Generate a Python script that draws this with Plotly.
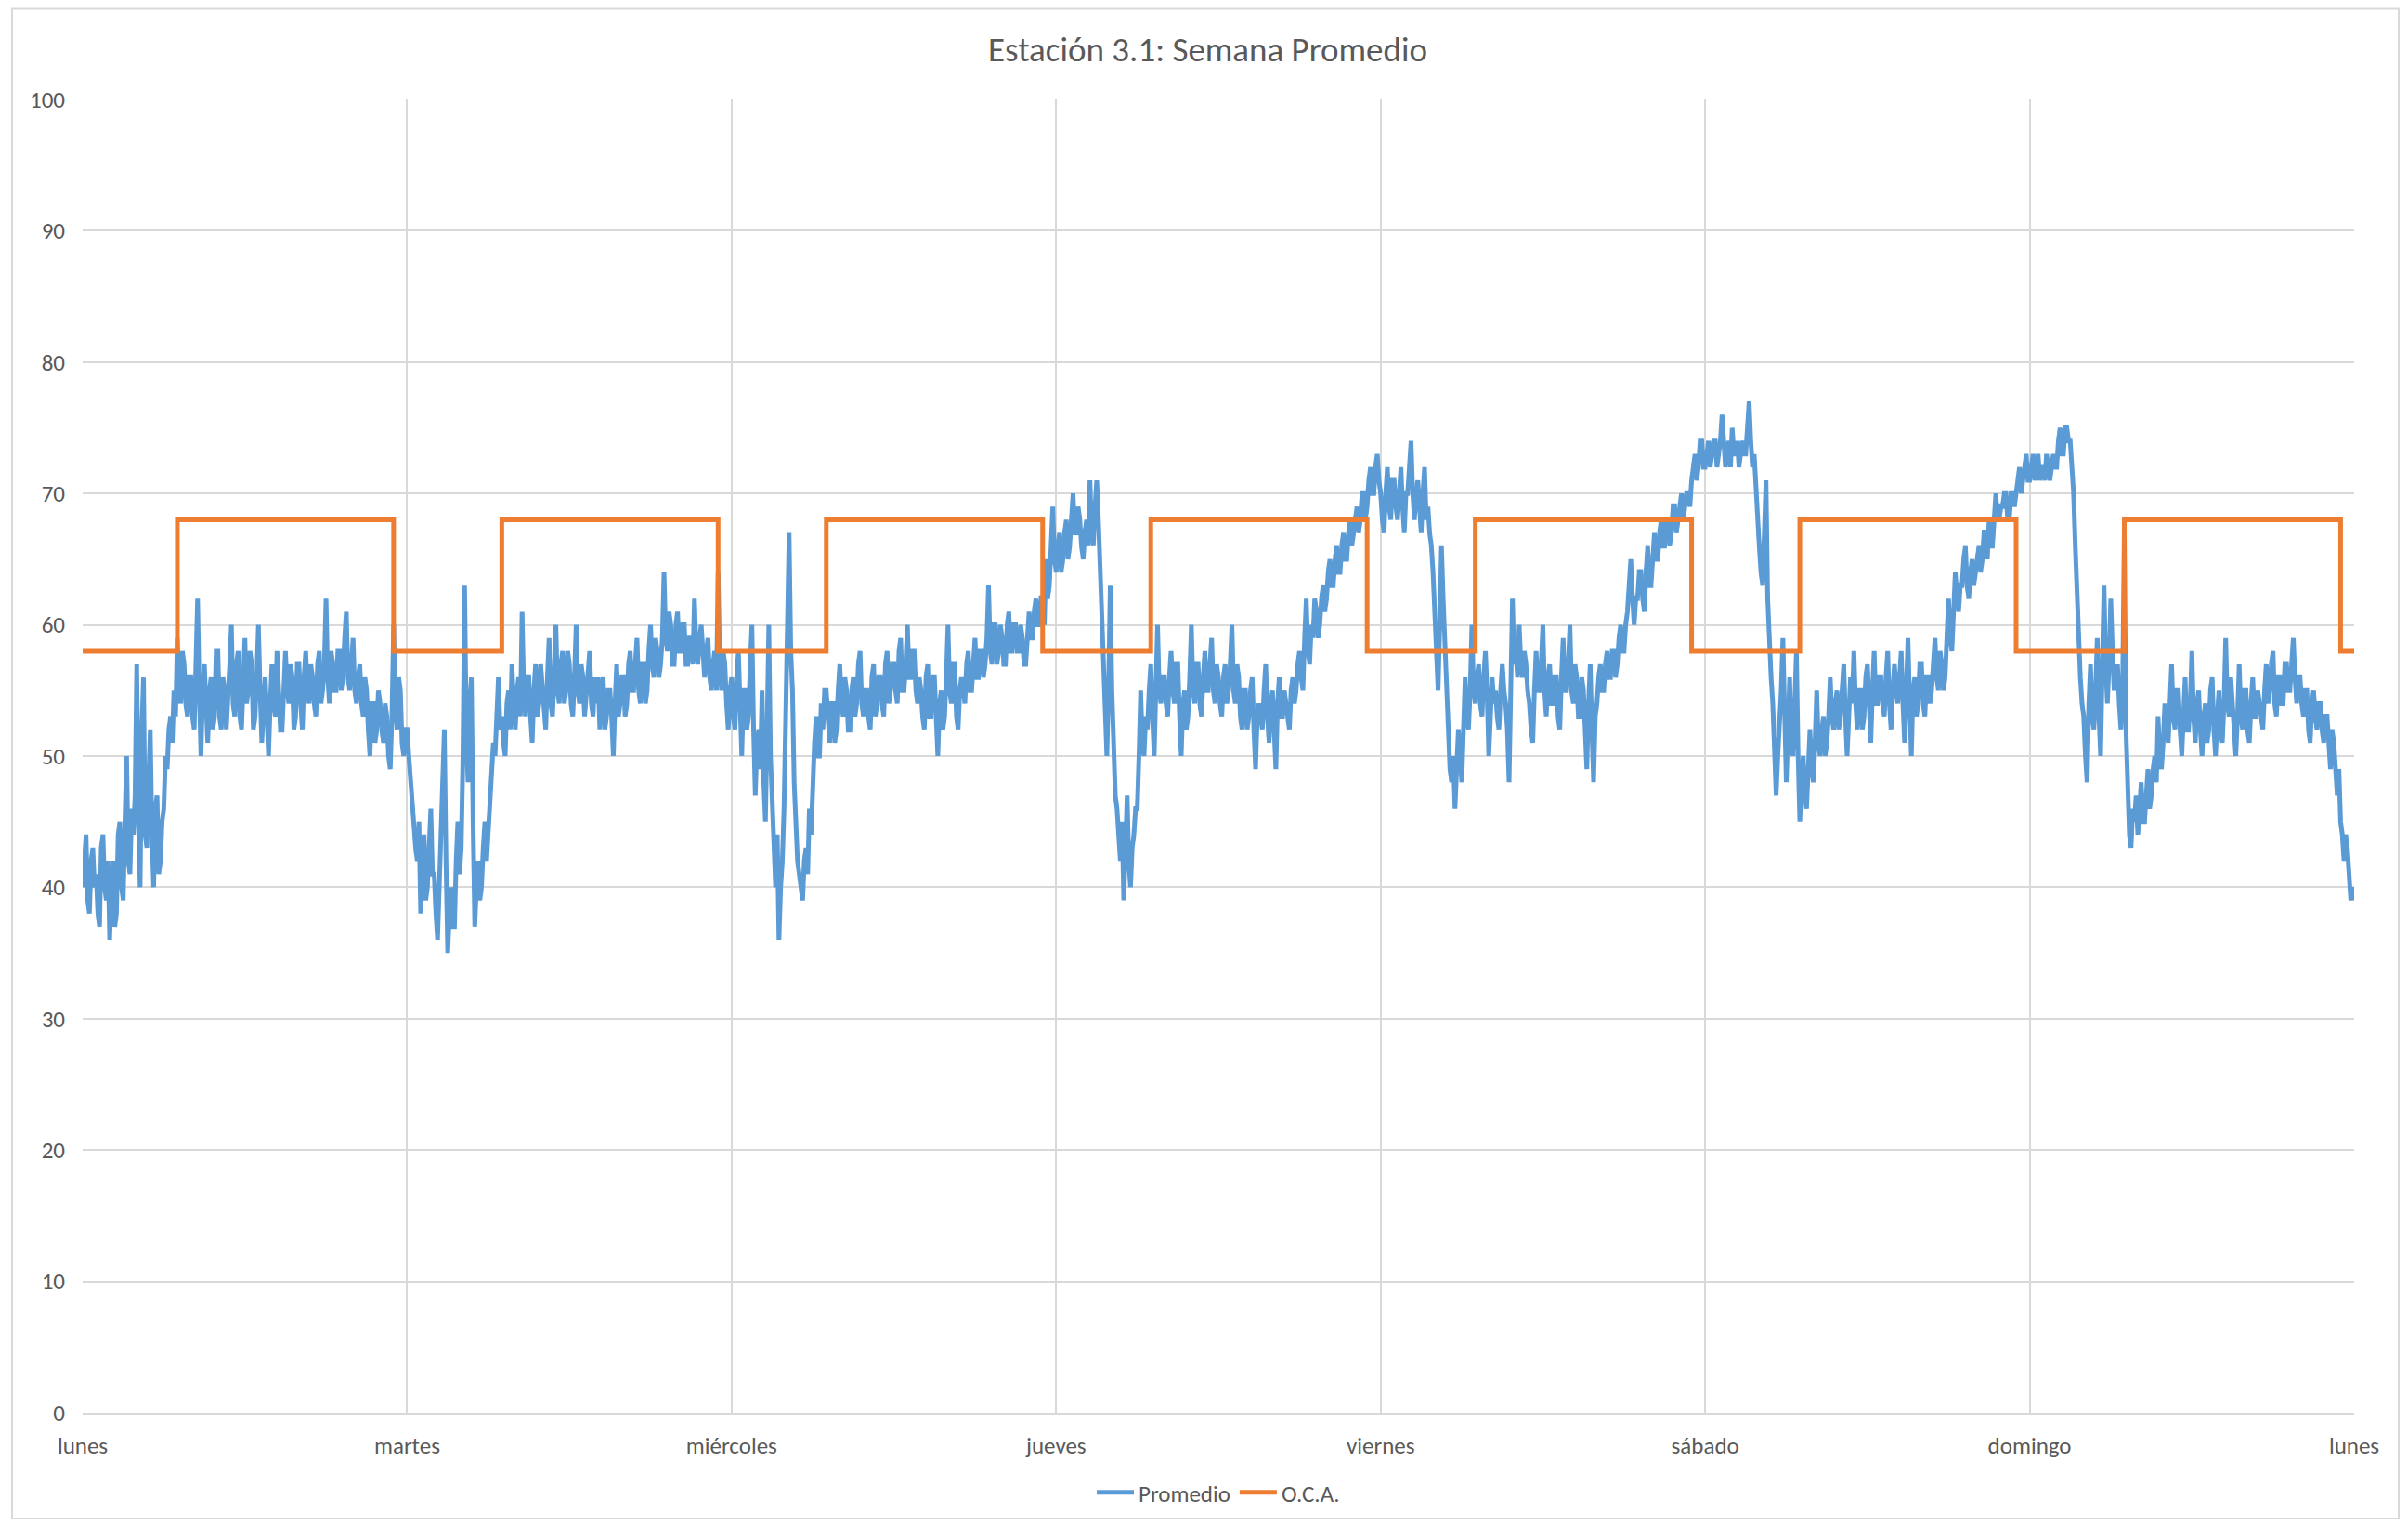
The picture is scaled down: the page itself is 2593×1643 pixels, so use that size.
import numpy as np
import plotly.graph_objects as go

# ---- data (7.5-minute values, hours 0..168; 8 values per hour) ----
day_names = ["lunes", "martes", "miércoles", "jueves", "viernes", "sábado", "domingo", "lunes"]

prom_lunes = [
    40, 43, 44, 39, 38, 42, 43, 40,   41, 38, 37, 43, 44, 40, 39, 42,
    36, 40, 42, 37, 38, 44, 45, 40,   39, 45, 50, 42, 41, 46, 44, 47,
    57, 45, 40, 52, 56, 44, 43, 48,   52, 44, 40, 46, 47, 41, 42, 45,
    46, 50, 49, 52, 53, 51, 55, 53,   59, 55, 54, 58, 57, 54, 53, 56,
    56, 53, 52, 57, 62, 55, 50, 55,   57, 54, 51, 55, 56, 52, 53, 58,
    58, 53, 52, 56, 55, 52, 54, 57,   60, 54, 53, 57, 58, 53, 52, 56,
    59, 54, 55, 58, 57, 52, 53, 56,   60, 55, 51, 54, 56, 53, 50, 54,
    57, 54, 53, 58, 55, 52, 52, 56,   58, 55, 54, 57, 56, 52, 53, 57,
    57, 54, 52, 56, 58, 55, 54, 57,   56, 54, 53, 57, 58, 54, 55, 57,
    62, 56, 54, 58, 57, 55, 55, 58,   58, 55, 56, 59, 61, 56, 55, 57,
    59, 55, 54, 56, 57, 54, 53, 56,   55, 52, 50, 54, 54, 51, 52, 55,
    54, 52, 51, 54, 53, 50, 49, 53,   60, 54, 52, 56, 55, 51, 50, 52,
]
prom_martes = [
    52, 50, 48, 46, 45, 43, 42, 45,   38, 42, 44, 39, 40, 43, 46, 41,
    41, 38, 36, 40, 44, 47, 52, 42,   35, 38, 40, 37, 37, 42, 45, 41,
    43, 50, 63, 52, 48, 54, 56, 45,   37, 40, 42, 39, 40, 43, 45, 42,
    44, 47, 48, 51, 50, 53, 56, 52,   53, 51, 50, 54, 55, 52, 57, 54,
    52, 55, 56, 53, 61, 55, 53, 56,   56, 53, 51, 55, 57, 53, 54, 57,
    55, 53, 52, 56, 59, 54, 53, 56,   60, 55, 54, 57, 58, 54, 55, 58,
    57, 54, 53, 56, 60, 55, 54, 57,   56, 53, 55, 57, 58, 54, 53, 56,
    54, 56, 52, 55, 56, 52, 53, 55,   55, 53, 50, 54, 57, 53, 54, 56,
    56, 53, 54, 57, 58, 55, 55, 57,   59, 55, 54, 57, 57, 54, 55, 58,
    60, 57, 56, 59, 58, 56, 57, 59,   64, 59, 58, 61, 60, 57, 57, 60,
    61, 58, 58, 60, 60, 57, 57, 59,   59, 57, 62, 58, 57, 59, 60, 58,
    56, 58, 59, 56, 55, 57, 58, 55,   64, 57, 55, 58, 57, 54, 52, 55,
]
prom_miercoles = [
    56, 53, 52, 56, 58, 54, 50, 55,   55, 52, 53, 57, 60, 52, 47, 51,
    52, 49, 55, 48, 45, 52, 60, 50,   46, 43, 40, 44, 36, 40, 42, 46,
    52, 60, 67, 58, 55, 48, 44, 42,   41, 40, 39, 42, 43, 41, 46, 44,
    48, 51, 53, 50, 50, 54, 52, 55,   55, 52, 51, 54, 54, 51, 52, 55,
    57, 54, 53, 56, 55, 52, 52, 55,   56, 53, 54, 57, 58, 54, 53, 55,
    55, 53, 52, 56, 57, 53, 54, 56,   56, 54, 53, 57, 58, 54, 55, 57,
    57, 55, 54, 58, 59, 55, 55, 57,   60, 56, 56, 58, 58, 55, 54, 56,
    55, 53, 52, 56, 57, 53, 53, 56,   56, 53, 50, 54, 55, 52, 53, 56,
    60, 55, 54, 57, 57, 53, 52, 55,   56, 55, 54, 57, 58, 55, 55, 57,
    59, 56, 56, 58, 58, 56, 57, 59,   63, 58, 57, 60, 60, 57, 58, 60,
    59, 57, 57, 60, 61, 58, 58, 60,   60, 58, 58, 60, 59, 57, 57, 59,
    61, 59, 59, 61, 62, 60, 60, 62,   62, 60, 65, 62, 63, 66, 69, 65,
]
prom_jueves = [
    64, 66, 67, 64, 65, 67, 68, 65,   66, 68, 70, 67, 67, 69, 68, 66,
    65, 67, 68, 66, 71, 67, 66, 69,   71, 68, 64, 60, 58, 54, 50, 55,
    63, 55, 49, 47, 46, 44, 42, 45,   39, 43, 47, 42, 40, 43, 44, 46,
    46, 50, 55, 51, 50, 53, 52, 55,   57, 53, 50, 55, 60, 55, 54, 56,
    56, 54, 53, 56, 58, 55, 54, 57,   57, 53, 50, 54, 55, 52, 53, 56,
    60, 55, 54, 57, 57, 54, 53, 56,   58, 55, 55, 57, 59, 55, 54, 57,
    56, 54, 53, 56, 57, 54, 55, 57,   60, 55, 54, 57, 56, 53, 52, 55,
    55, 52, 53, 55, 56, 52, 49, 53,   54, 53, 52, 55, 57, 53, 51, 54,
    55, 52, 49, 54, 56, 53, 53, 55,   54, 53, 52, 55, 56, 54, 55, 57,
    58, 56, 55, 59, 62, 58, 57, 60,   59, 62, 61, 59, 60, 62, 63, 61,
    62, 64, 65, 63, 63, 65, 66, 64,   64, 66, 67, 65, 65, 67, 68, 66,
    67, 68, 69, 67, 68, 70, 70, 68,   69, 71, 72, 70, 70, 72, 73, 71,
]
prom_viernes = [
    70, 68, 67, 70, 72, 69, 68, 71,   71, 69, 68, 70, 72, 69, 67, 70,
    70, 72, 74, 70, 68, 70, 71, 69,   67, 70, 72, 68, 69, 67, 66, 64,
    61, 58, 55, 60, 66, 62, 59, 55,   51, 49, 48, 50, 46, 49, 52, 50,
    48, 52, 56, 53, 52, 55, 60, 55,   54, 56, 57, 54, 53, 56, 58, 55,
    50, 53, 56, 54, 55, 53, 52, 55,   57, 55, 54, 52, 48, 55, 62, 57,
    58, 56, 60, 57, 56, 58, 57, 55,   54, 52, 51, 55, 58, 55, 55, 57,
    60, 55, 53, 56, 57, 54, 54, 56,   56, 53, 52, 56, 59, 55, 55, 57,
    60, 55, 54, 57, 56, 53, 53, 56,   55, 52, 49, 54, 57, 52, 48, 53,
    54, 56, 57, 55, 55, 57, 58, 56,   56, 58, 58, 56, 57, 59, 60, 58,
    58, 60, 61, 63, 65, 62, 60, 62,   62, 64, 64, 62, 61, 64, 66, 63,
    63, 65, 67, 65, 65, 67, 68, 66,   66, 68, 68, 66, 67, 69, 69, 67,
    68, 69, 70, 68, 69, 70, 70, 69,   71, 72, 73, 71, 72, 74, 74, 72,
]
prom_sabado = [
    72, 73, 74, 72, 73, 74, 74, 72,   73, 74, 76, 73, 72, 73, 74, 72,
    75, 73, 73, 74, 72, 73, 74, 73,   73, 75, 77, 74, 72, 73, 70, 68,
    66, 64, 63, 67, 71, 62, 58, 56,   54, 50, 47, 50, 52, 55, 59, 52,
    48, 52, 56, 51, 50, 54, 58, 50,   45, 48, 50, 47, 46, 49, 52, 49,
    48, 51, 55, 51, 50, 52, 53, 50,   51, 53, 56, 53, 52, 54, 55, 52,
    53, 55, 57, 53, 50, 53, 56, 54,   58, 54, 52, 55, 55, 52, 53, 56,
    57, 54, 51, 55, 58, 54, 54, 56,   56, 54, 53, 56, 58, 54, 52, 55,
    57, 55, 54, 56, 58, 54, 51, 55,   59, 54, 50, 55, 56, 53, 54, 57,
    57, 54, 53, 56, 56, 54, 55, 57,   59, 56, 55, 58, 57, 55, 56, 59,
    62, 59, 58, 61, 64, 62, 61, 63,   63, 65, 66, 63, 62, 64, 65, 63,
    64, 65, 66, 64, 65, 67, 67, 65,   68, 66, 66, 68, 70, 68, 68, 69,
    69, 70, 70, 68, 68, 70, 70, 69,   70, 71, 72, 70, 71, 72, 73, 71,
]
prom_domingo = [
    71, 72, 73, 71, 72, 73, 71, 72,   72, 71, 73, 72, 71, 72, 73, 72,
    72, 74, 75, 73, 73, 75, 75, 74,   74, 72, 70, 66, 62, 59, 56, 54,
    53, 50, 48, 54, 57, 53, 52, 55,   59, 53, 50, 57, 63, 57, 54, 57,
    62, 58, 55, 56, 57, 54, 52, 55,   67, 52, 46, 44, 43, 46, 45, 47,
    44, 46, 48, 45, 45, 47, 49, 46,   47, 49, 50, 48, 53, 50, 49, 51,
    54, 52, 51, 54, 57, 53, 52, 55,   55, 52, 50, 53, 56, 52, 52, 54,
    58, 53, 51, 54, 55, 52, 50, 53,   54, 51, 52, 55, 56, 52, 50, 53,
    55, 52, 51, 54, 59, 54, 53, 56,   54, 52, 50, 53, 57, 53, 52, 55,
    55, 52, 51, 54, 56, 53, 53, 55,   54, 53, 52, 55, 57, 54, 55, 57,
    58, 54, 53, 56, 56, 54, 54, 57,   57, 55, 55, 57, 59, 56, 54, 56,
    56, 54, 53, 55, 55, 52, 51, 54,   55, 53, 52, 54, 54, 52, 51, 53,
    53, 51, 49, 52, 51, 49, 47, 49,   45, 44, 42, 44, 43, 41, 39, 40,
]
prom_final = [39]

# O.C.A. limit per hour of the day (night 58, day 68 between 7 h and 23 h)
oca_hours_of_day = [0, 7, 23]
oca_levels = [58, 68, 58]

# ---- build series ----
promedio = (prom_lunes + prom_martes + prom_miercoles + prom_jueves
            + prom_viernes + prom_sabado + prom_domingo + prom_final)
sample_step_h = 0.125
x_prom = np.arange(len(promedio)) * sample_step_h

oca_x, oca_y = [], []
for d in range(7):
    for h, v in zip(oca_hours_of_day, oca_levels):
        oca_x.append(d * 24 + h)
        oca_y.append(v)
oca_x.append(168)
oca_y.append(oca_levels[-1])

FONT = "Carlito, Lato, sans-serif"
TXT = "#595959"
GRID = "#D9D9D9"

fig = go.Figure()
fig.add_trace(go.Scatter(
    x=x_prom, y=promedio, mode="lines", name="Promedio",
    line=dict(color="#5B9BD5", width=5),
))
fig.add_trace(go.Scatter(
    x=oca_x, y=oca_y, mode="lines", name="O.C.A.",
    line=dict(color="#ED7D31", width=5, shape="hv"),
))

# page has an 8px body margin, so the figure is 8px smaller than the window
W, H = 2585, 1635
L, R, T, B = 81, 58, 99, 122
plot_h = H - T - B
plot_w = W - L - R

fig.update_layout(
    width=W, height=H,
    margin=dict(l=L, r=R, t=T, b=B),
    paper_bgcolor="white", plot_bgcolor="white",
    font=dict(family=FONT, color=TXT, size=25),
    title=dict(text="Estación 3.1: Semana Promedio", x=0.5, xanchor="center",
               y=1 - 45 / H, yanchor="middle", yref="container",
               font=dict(size=37, color=TXT, family=FONT)),
    showlegend=True,
    legend=dict(orientation="h", x=0.5, xanchor="center",
                y=(H - B - 1599) / plot_h, yanchor="middle",
                font=dict(size=25, color=TXT, family=FONT),
                itemwidth=40, bgcolor="rgba(0,0,0,0)"),
    hovermode=False,
    shapes=[dict(type="rect", xref="paper", yref="paper",
                 x0=(5 - L) / plot_w, x1=(2575 - L) / plot_w,
                 y0=(H - B - 1627) / plot_h, y1=(H - B - 1.5) / plot_h,
                 line=dict(color=GRID, width=2), fillcolor="rgba(0,0,0,0)",
                 layer="below")],
)
fig.update_xaxes(
    range=[0, 168], tickmode="array",
    tickvals=[24 * i for i in range(8)], ticktext=day_names,
    showgrid=True, gridcolor=GRID, gridwidth=1.5,
    showline=True, linecolor=GRID, linewidth=1.5,
    zeroline=False, ticks="", ticklabelstandoff=12,
    tickfont=dict(size=25, color=TXT, family=FONT),
)
fig.update_yaxes(
    range=[0, 100], tick0=0, dtick=10,
    showgrid=True, gridcolor=GRID, gridwidth=1.5,
    showline=False, zeroline=False, ticks="", ticklabelstandoff=18,
    tickfont=dict(size=25, color=TXT, family=FONT),
)

fig.write_html("out.html")
